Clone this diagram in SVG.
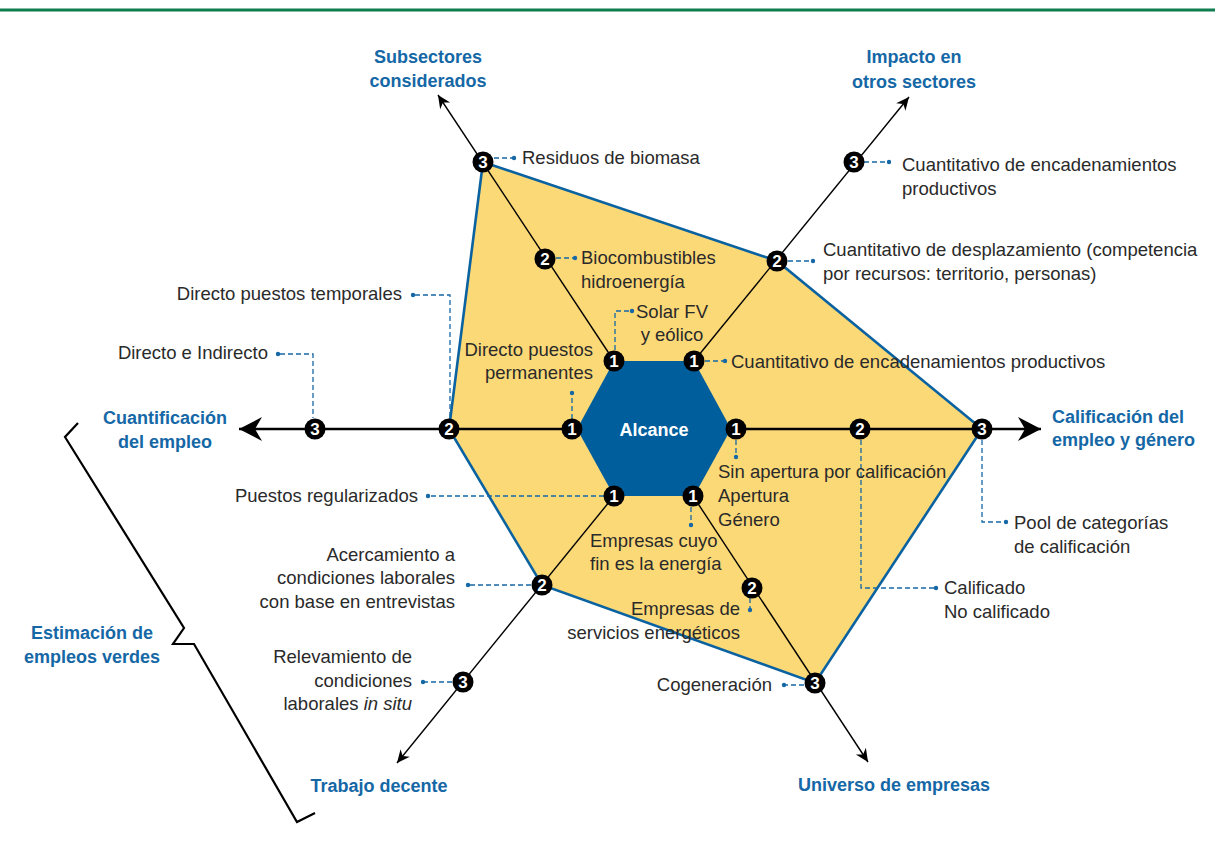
<svg xmlns="http://www.w3.org/2000/svg" width="1215" height="847" viewBox="0 0 1215 847">
<style>
.t{font-family:"Liberation Sans",Arial,sans-serif;font-size:18.5px;fill:#2a2a2a}
.h{font-family:"Liberation Sans",Arial,sans-serif;font-size:18px;font-weight:bold;fill:#1567a6}
.n circle{fill:#000}
.n text{font-family:"Liberation Sans",Arial,sans-serif;font-size:17px;font-weight:bold;fill:#fff;text-anchor:middle}
.ax{stroke:#000;stroke-width:1.4;fill:none}
.axh{stroke:#000;stroke-width:2.6;fill:none}
.ld{stroke:#1567a6;stroke-width:1.3;stroke-dasharray:5 3;fill:none}
.dot{fill:#1567a6}
</style>
<defs>
<marker id="ah" viewBox="-25 -13 26 26" markerWidth="26" markerHeight="26" refX="0" refY="0" orient="auto" markerUnits="userSpaceOnUse">
<path d="M0,0 L-23,-12 L-16,0 L-23,12 Z" fill="#000"/>
</marker>
<marker id="as" viewBox="-14 -7 15 14" markerWidth="15" markerHeight="14" refX="0" refY="0" orient="auto" markerUnits="userSpaceOnUse">
<path d="M0,0 L-13,-6 L-9,0 L-13,6 Z" fill="#000"/>
</marker>
</defs>
<rect x="0" y="0" width="1215" height="847" fill="#fff"/>
<line x1="0" y1="10" x2="1215" y2="10" stroke="#0f7d4e" stroke-width="3"/>

<g id="area">
<polygon points="483,162 777,261 982,429 815,683 542,585 449,429" fill="#fcd977" stroke="#0b62a0" stroke-width="2.6" stroke-linejoin="miter"/>
</g>

<g id="connectors">
<line class="axh" x1="572" y1="429" x2="239" y2="429" marker-end="url(#ah)"/>
<line class="axh" x1="736" y1="429" x2="1041" y2="429" marker-end="url(#ah)"/>
<line class="ax" x1="614" y1="361" x2="438" y2="95" marker-end="url(#as)"/>
<line class="ax" x1="694" y1="361" x2="909" y2="97" marker-end="url(#as)"/>
<line class="ax" x1="614" y1="496" x2="397" y2="763" marker-end="url(#as)"/>
<line class="ax" x1="693" y1="496" x2="868" y2="762" marker-end="url(#as)"/>
<path class="ld" d="M494 158 H512"/>
<path class="ld" d="M556 258 H573"/>
<path class="ld" d="M615 350 V311 H630"/>
<path class="ld" d="M572 419 V395"/>
<path class="ld" d="M705 361 H723"/>
<path class="ld" d="M864 162 H887"/>
<path class="ld" d="M788 261 H811"/>
<path class="ld" d="M736 440 V455"/>
<path class="ld" d="M691 507 V523"/>
<path class="ld" d="M861 440 V588 H934"/>
<path class="ld" d="M982 440 V522 H1004"/>
<path class="ld" d="M750 598 V608"/>
<path class="ld" d="M804 685 H786"/>
<path class="ld" d="M604 496 H430"/>
<path class="ld" d="M531 585 H470"/>
<path class="ld" d="M452 682 H425"/>
<path class="ld" d="M415 295 H450 V418"/>
<path class="ld" d="M280 354 H313 V418"/>
<g class="dot">
<circle cx="514" cy="158" r="2.2"/><circle cx="575" cy="258" r="2.2"/><circle cx="632" cy="311" r="2.2"/>
<circle cx="572" cy="393" r="2.2"/><circle cx="725" cy="361" r="2.2"/><circle cx="889" cy="162" r="2.2"/>
<circle cx="813" cy="261" r="2.2"/><circle cx="736" cy="457" r="2.2"/><circle cx="691" cy="525" r="2.2"/>
<circle cx="936" cy="588" r="2.2"/><circle cx="1006" cy="522" r="2.2"/><circle cx="750" cy="610" r="2.2"/>
<circle cx="784" cy="685" r="2.2"/><circle cx="428" cy="496" r="2.2"/><circle cx="468" cy="585" r="2.2"/>
<circle cx="423" cy="682" r="2.2"/><circle cx="413" cy="295" r="2.2"/><circle cx="278" cy="354" r="2.2"/>
</g>
</g>

<g id="alcance">
<polygon points="577,429 614,361 694,361 731,429 694,496 614,496" fill="#005e9c"/>
<text x="654" y="436" text-anchor="middle" style="font-family:'Liberation Sans',Arial,sans-serif;font-size:18px;font-weight:bold;fill:#fff">Alcance</text>
</g>

<g id="nodes" class="n">
<g id="l1"><circle cx="572" cy="429" r="10.5"/><text x="572" y="435">1</text></g>
<g id="l2"><circle cx="449" cy="429" r="10.5"/><text x="449" y="435">2</text></g>
<g id="l3"><circle cx="315" cy="429" r="10.5"/><text x="315" y="435">3</text></g>
<g id="r1"><circle cx="736" cy="429" r="10.5"/><text x="736" y="435">1</text></g>
<g id="r2"><circle cx="860" cy="429" r="10.5"/><text x="860" y="435">2</text></g>
<g id="r3"><circle cx="982" cy="429" r="10.5"/><text x="982" y="435">3</text></g>
<g id="ul1"><circle cx="614" cy="361" r="10.5"/><text x="614" y="367">1</text></g>
<g id="ul2"><circle cx="545" cy="259" r="10.5"/><text x="545" y="265">2</text></g>
<g id="ul3"><circle cx="483" cy="162" r="10.5"/><text x="483" y="168">3</text></g>
<g id="ur1"><circle cx="694" cy="361" r="10.5"/><text x="694" y="367">1</text></g>
<g id="ur2"><circle cx="777" cy="261" r="10.5"/><text x="777" y="267">2</text></g>
<g id="ur3"><circle cx="854" cy="162" r="10.5"/><text x="854" y="168">3</text></g>
<g id="ll1"><circle cx="614" cy="496" r="10.5"/><text x="614" y="502">1</text></g>
<g id="ll2"><circle cx="542" cy="585" r="10.5"/><text x="542" y="591">2</text></g>
<g id="ll3"><circle cx="463" cy="682" r="10.5"/><text x="463" y="688">3</text></g>
<g id="lr1"><circle cx="693" cy="496" r="10.5"/><text x="693" y="502">1</text></g>
<g id="lr2"><circle cx="752" cy="588" r="10.5"/><text x="752" y="594">2</text></g>
<g id="lr3"><circle cx="815" cy="683" r="10.5"/><text x="815" y="689">3</text></g>
</g>

<g id="axis-titles" class="h">
<text x="428" y="63" text-anchor="middle">Subsectores</text>
<text x="428" y="87" text-anchor="middle">considerados</text>
<text x="914" y="63" text-anchor="middle">Impacto en</text>
<text x="914" y="88" text-anchor="middle">otros sectores</text>
<text x="165" y="424" text-anchor="middle">Cuantificación</text>
<text x="165" y="448" text-anchor="middle">del empleo</text>
<text x="1052" y="423">Calificación del</text>
<text x="1052" y="446">empleo y género</text>
<text x="92" y="639" text-anchor="middle">Estimación de</text>
<text x="92" y="663" text-anchor="middle">empleos verdes</text>
<text x="379" y="792" text-anchor="middle">Trabajo decente</text>
<text x="894" y="791" text-anchor="middle">Universo de empresas</text>
</g>

<g id="labels" class="t">
<text x="522" y="164">Residuos de biomasa</text>
<text x="581" y="264">Biocombustibles</text>
<text x="581" y="288">hidroenergía</text>
<text x="672" y="318" text-anchor="middle">Solar FV</text>
<text x="672" y="341" text-anchor="middle">y eólico</text>
<text x="593" y="356" text-anchor="end">Directo puestos</text>
<text x="593" y="379" text-anchor="end">permanentes</text>
<text x="731" y="368">Cuantitativo de encadenamientos productivos</text>
<text x="902" y="171">Cuantitativo de encadenamientos</text>
<text x="902" y="195">productivos</text>
<text x="823" y="256">Cuantitativo de desplazamiento (competencia</text>
<text x="823" y="280">por recursos: territorio, personas)</text>
<text x="718" y="478">Sin apertura por calificación</text>
<text x="718" y="502">Apertura</text>
<text x="718" y="526">Género</text>
<text x="590" y="547">Empresas cuyo</text>
<text x="590" y="570">fin es la energía</text>
<text x="944" y="594">Calificado</text>
<text x="944" y="618">No calificado</text>
<text x="1014" y="529">Pool de categorías</text>
<text x="1014" y="553">de calificación</text>
<text x="740" y="615" text-anchor="end">Empresas de</text>
<text x="740" y="639" text-anchor="end">servicios energéticos</text>
<text x="772" y="691" text-anchor="end">Cogeneración</text>
<text x="418" y="502" text-anchor="end">Puestos regularizados</text>
<text x="455" y="561" text-anchor="end">Acercamiento a</text>
<text x="455" y="584" text-anchor="end">condiciones laborales</text>
<text x="455" y="608" text-anchor="end">con base en entrevistas</text>
<text x="412" y="663" text-anchor="end">Relevamiento de</text>
<text x="412" y="687" text-anchor="end">condiciones</text>
<text x="412" y="710" text-anchor="end">laborales <tspan font-style="italic">in situ</tspan></text>
<text x="402" y="300" text-anchor="end">Directo puestos temporales</text>
<text x="268" y="359" text-anchor="end">Directo e Indirecto</text>
</g>

<g id="brace">
<path d="M78,423 L65,437 L184,628 L173,644 L194,644 L297,822 L315,813" fill="none" stroke="#000" stroke-width="2.2" stroke-linejoin="miter"/>
</g>
</svg>
